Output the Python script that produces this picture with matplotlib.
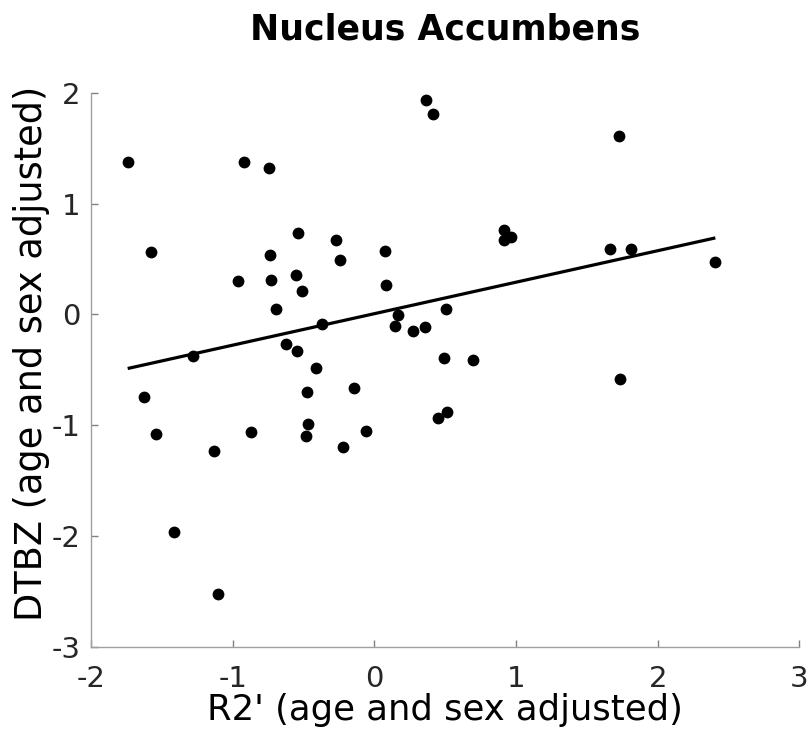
import numpy as np
import matplotlib
matplotlib.use("Agg")
import matplotlib.pyplot as plt

# R2' (age and sex adjusted) vs DTBZ (age and sex adjusted)
r2_prime = [-1.743, -0.920, -0.743, 0.362, 0.415, -1.578, -0.540, -0.270, -0.738,
            -0.246, 0.076, -0.964, -0.731, -0.554, -0.514, 0.079, -0.696, 0.164,
            -0.373, 0.145, 0.274, 0.354, -1.284, -0.623, -0.547, -0.411, 1.729,
            0.915, 0.915, 0.962, 1.665, 1.811, 2.407, 0.507, 0.493, 0.693,
            -1.626, -1.545, -1.136, -0.872, -0.479, -0.470, -0.482, -0.220,
            -0.145, -0.058, -1.416, -1.105, 1.734, 0.451, 0.514]
dtbz = [1.377, 1.377, 1.318, 1.937, 1.810, 0.565, 0.736, 0.673, 0.538,
        0.490, 0.574, 0.303, 0.307, 0.352, 0.213, 0.264, 0.048, -0.009,
        -0.090, -0.106, -0.148, -0.117, -0.376, -0.268, -0.331, -0.488, 1.612,
        0.761, 0.671, 0.698, 0.592, 0.589, 0.472, 0.051, -0.392, -0.410,
        -0.744, -1.083, -1.234, -1.065, -0.699, -0.990, -1.096, -1.198,
        -0.668, -1.053, -1.965, -2.522, -0.584, -0.936, -0.885]

# regression line (slope, intercept) as drawn in the reference
fit_slope = 0.284
fit_intercept = 0.006

x_ticks = [-2, -1, 0, 1, 2, 3]
y_ticks = [-3, -2, -1, 0, 1, 2]

plt.rcParams['font.family'] = ['DejaVu Sans']
plt.rcParams['axes.unicode_minus'] = False

fig = plt.figure(figsize=(8.10, 7.34), dpi=100)
ax = fig.add_axes([0.1127, 0.1189, 0.8741, 0.7548])

ax.plot(r2_prime, dtbz, 'o', color='black', markersize=8.5, markeredgewidth=0)

x_line = np.array([min(r2_prime), max(r2_prime)])
ax.plot(x_line, fit_slope * x_line + fit_intercept, color='black', linewidth=2.3,
        solid_capstyle='butt')

ax.set_xlim(-2, 3)
ax.set_ylim(-3, 2)
ax.set_xticks(x_ticks)
ax.set_yticks(y_ticks)

for side in ['top', 'right']:
    ax.spines[side].set_visible(False)
for side in ['left', 'bottom']:
    ax.spines[side].set_color('#a0a0a0')
    ax.spines[side].set_linewidth(1.0)

ax.tick_params(direction='in', length=5, width=1.0, color='#808080',
               labelsize=21, labelcolor='#262626')
ax.tick_params(axis='x', pad=13)
ax.tick_params(axis='y', pad=8)

ax.set_xlabel("R2' (age and sex adjusted)", fontsize=25.5, color='black', labelpad=0)
ax.set_ylabel("DTBZ (age and sex adjusted)", fontsize=26.5, color='black')
ax.yaxis.set_label_coords(-0.058, 0.53)
ax.set_title("Nucleus Accumbens", fontsize=25, fontweight='bold', pad=38)

fig.savefig('out.png', dpi=100)
